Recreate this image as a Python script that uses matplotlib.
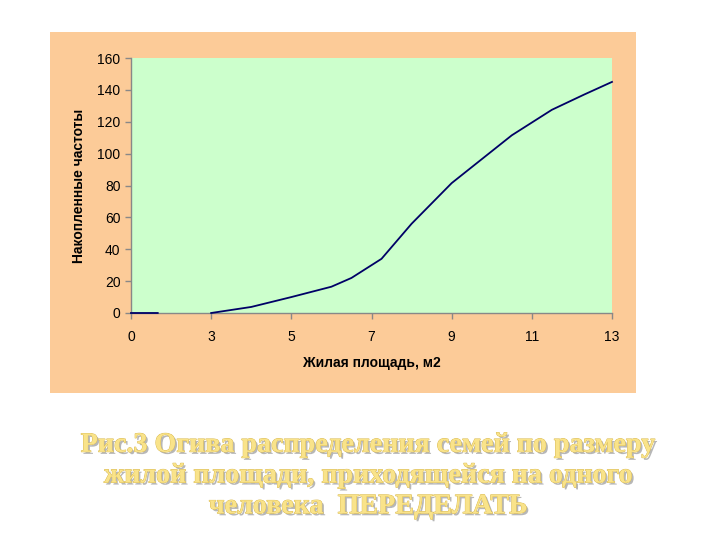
import numpy as np
import matplotlib
matplotlib.use("Agg")
import matplotlib.pyplot as plt
from matplotlib.patches import Rectangle
import matplotlib.patheffects as pe

# Data
x_ticks = [0, 3, 5, 7, 9, 11, 13]
y_ticks = [0, 20, 40, 60, 80, 100, 120, 140, 160]
area = [0, 1, 2, 3, 4, 5, 6, 6.5, 7.25, 8, 9, 10.5, 11.5, 12.3, 13]
cum_freq = [0, 0, np.nan, 0, 3.8, 10, 16.5, 22, 34, 56, 81.5, 111.5, 127.5, 137, 145]

x_label = "Жилая площадь, м2"
y_label = "Накопленные частоты"
caption = "Рис.3 Огива распределения семей по размеру\nжилой площади, приходящейся на одного\nчеловека  ПЕРЕДЕЛАТЬ"

fig = plt.figure(figsize=(7.2, 5.4), dpi=100)
fig.patch.set_facecolor("white")

# Outer chart panel
fig.patches.append(Rectangle((50/720, 1-393/540), (636-50)/720, (393-32)/540,
                             transform=fig.transFigure, facecolor="#FCCB98",
                             edgecolor="none", zorder=-5))

ax = fig.add_axes([131/720, 1-313/540, 481/720, 255/540])
ax.set_zorder(2)
ax.set_facecolor("#CCFFCC")

pos = np.arange(len(x_ticks))
def fwd(v):
    return np.interp(v, x_ticks, pos)
def inv(v):
    return np.interp(v, pos, x_ticks)
ax.set_xscale("function", functions=(fwd, inv))

ax.plot(area, cum_freq, color="#000066", lw=1.3, zorder=3, clip_on=False)

ax.set_xlim(0, 13)
ax.set_ylim(0, 160)
ax.set_xticks(x_ticks)
ax.set_xticklabels([str(t) for t in x_ticks])
ax.set_yticks(y_ticks)
ax.set_yticklabels([str(t) for t in y_ticks])
ax.minorticks_off()

for s in ["top", "right"]:
    ax.spines[s].set_visible(False)
for s in ["left", "bottom"]:
    ax.spines[s].set_color("#888888")
    ax.spines[s].set_linewidth(1)
ax.tick_params(axis="both", colors="#888888", labelcolor="black",
               labelsize=10, length=4, width=1)
ax.tick_params(axis="x", pad=8)
for lab in ax.get_xticklabels() + ax.get_yticklabels():
    lab.set_fontfamily("Liberation Sans")

ax.set_xlabel(x_label, fontsize=10, fontweight="bold",
              fontfamily="Liberation Sans", labelpad=9)
ax.set_ylabel(y_label, fontsize=10, fontweight="bold",
              fontfamily="Liberation Sans", labelpad=8)

fig.text(368/720, 1-476/540, caption, ha="center", va="center",
         fontsize=20.2, fontweight="bold", fontfamily="Liberation Serif",
         color="#F9E38A", linespacing=1.3,
         path_effects=[pe.withSimplePatchShadow(offset=(1.5, -1.5),
                                                shadow_rgbFace="#999999", alpha=0.7),
                       pe.withStroke(linewidth=0.6, foreground="#D8B850")])

fig.savefig("out.png", dpi=100)
